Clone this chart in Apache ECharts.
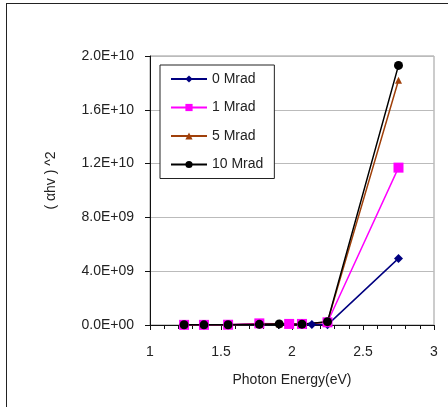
<!DOCTYPE html>
<html>
<head>
<meta charset="utf-8">
<script src="https://cdn.jsdelivr.net/npm/echarts@6/dist/echarts.min.js"></script>
<style>
  html, body { margin: 0; padding: 0; background: #fff; }
  #frame { position: absolute; left: 6px; top: 3px; width: 442px; height: 404px;
           border-top: 1px solid #222; border-left: 1px solid #222; box-sizing: border-box; }
  #chart { position: absolute; left: 0; top: 0; width: 448px; height: 407px; }
</style>
</head>
<body>
<div id="frame"></div>
<div id="chart"></div>
<script>
// photon energy (eV) for each dose
const energy0 = [1.24, 1.38, 1.55, 1.77, 1.91, 2.07, 2.14, 2.25, 2.75]
const energy1 = [1.24, 1.38, 1.55, 1.77, 1.98, 2.07, 2.25, 2.75]
const energy5 = [1.24, 1.38, 1.55, 1.77, 1.91, 2.07, 2.25, 2.75]
const energy10 = [1.24, 1.38, 1.55, 1.77, 1.91, 2.07, 2.25, 2.75]

// (αhv)^2 values
const mrad0 = [1e7, 1e7, 2e7, 4e7, 5e7, 5e7, 4e7, 1e7, 4.95e9]
const mrad1 = [1e7, 1e7, 2e7, 1.2e8, 8e7, 8e7, 2e8, 1.17e10]
const mrad5 = [1e7, 1e7, 2e7, 5e7, 7e7, 6e7, 2.3e8, 1.82e10]
const mrad10 = [2e7, 1e7, 2e7, 5e7, 8e7, 6e7, 2.5e8, 1.93e10]

const seriesNames = ['0 Mrad', '1 Mrad', '5 Mrad', '10 Mrad']
const yTicks = [0, 4e9, 8e9, 1.2e10, 1.6e10, 2e10]

const pairs = (xs, ys) => xs.map((x, i) => [x, ys[i]])

// 2.0E+10 style labels
const sci = v => {
  if (v === 0) return '0.0E+00'
  const e = Math.floor(Math.log10(v))
  const m = (v / Math.pow(10, e)).toFixed(1)
  return m + 'E+' + String(e).padStart(2, '0')
}

const chart = echarts.init(document.getElementById('chart'))

const font = 'Liberation Sans, Arial, sans-serif'

chart.setOption({
  animation: false,
  textStyle: {fontFamily: font},
  grid: {left: 150, right: 14, top: 56, bottom: 82, show: true, borderColor: '#999', borderWidth: 1},
  legend: {
    left: 160, top: 65, orient: 'vertical',
    data: seriesNames,
    itemWidth: 36, itemHeight: 9, itemGap: 14.5,
    padding: [7, 11, 7, 10],
    borderColor: '#222', borderWidth: 1, borderRadius: 0,
    backgroundColor: '#fff',
    textStyle: {fontSize: 14, color: '#222', fontFamily: font}
  },
  xAxis: {
    type: 'value', min: 1, max: 3, interval: 0.5,
    name: 'Photon Energy(eV)', nameLocation: 'middle', nameGap: 48,
    nameTextStyle: {fontSize: 14, color: '#222'},
    axisLine: {lineStyle: {color: '#111'}},
    axisTick: {length: 5, lineStyle: {color: '#111'}},
    minorTick: {show: true, splitNumber: 5, length: 4, lineStyle: {color: '#111'}},
    axisLabel: {fontSize: 14, color: '#222', margin: 20},
    splitLine: {show: false}
  },
  yAxis: {
    type: 'value', min: yTicks[0], max: yTicks[yTicks.length - 1], interval: 4e9,
    name: '( αhv ) ^2', nameLocation: 'middle', nameGap: 92,
    nameTextStyle: {fontSize: 14, color: '#222', padding: [0, 0, 0, 20]},
    axisLine: {show: true, lineStyle: {color: '#111'}},
    axisTick: {show: true, length: 5, lineStyle: {color: '#111'}},
    axisLabel: {fontSize: 14, color: '#222', margin: 16, formatter: sci},
    splitLine: {lineStyle: {color: '#bbb'}}
  },
  series: [
    {name: seriesNames[0], type: 'line', data: pairs(energy0, mrad0),
     symbol: 'diamond', symbolSize: 9, color: '#000080', lineStyle: {width: 1.5}},
    {name: seriesNames[1], type: 'line', data: pairs(energy1, mrad1),
     symbol: 'rect', symbolSize: 10, color: '#ff00ff', lineStyle: {width: 1.5}},
    {name: seriesNames[2], type: 'line', data: pairs(energy5, mrad5),
     symbol: 'triangle', symbolSize: 7, color: '#a0400a', lineStyle: {width: 1.5}},
    {name: seriesNames[3], type: 'line', data: pairs(energy10, mrad10),
     symbol: 'circle', symbolSize: 9, color: '#000000', lineStyle: {width: 1.5}}
  ]
})
</script>
</body>
</html>
